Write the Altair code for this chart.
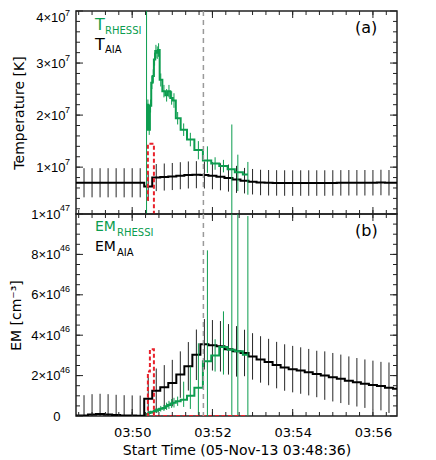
import altair as alt
import pandas as pd

# ---------------------------------------------------------------- data
# time = seconds after the start time 05-Nov-13 03:48:36
AIA_TIME = [0, 12, 24, 36, 48, 60, 72, 84, 96, 108,
            120, 132, 144, 156, 168, 180, 192, 204, 216, 228,
            240, 252, 264, 276, 288, 300, 312, 324, 336, 348,
            360, 372, 384, 396, 408, 420, 432, 444, 456, 468, 480]
T_AIA = [7.0e6, 7.0e6, 7.0e6, 7.0e6, 7.0e6, 7.0e6, 7.0e6, 7.0e6, 7.0e6, 6.3e6,
         8.0e6, 8.1e6, 8.2e6, 8.35e6, 8.5e6, 8.55e6, 8.5e6, 8.35e6, 8.15e6, 7.9e6,
         7.65e6, 7.4e6, 7.2e6, 7.05e6, 7.0e6, 6.97e6, 6.95e6, 6.95e6, 6.95e6, 6.95e6,
         6.95e6, 6.95e6, 6.97e6, 6.98e6, 7.0e6, 7.0e6, 7.0e6, 7.0e6, 7.05e6, 7.0e6, 7.0e6]
T_AIA_ERR = [2.8e6, 2.8e6, 2.8e6, 2.8e6, 2.8e6, 2.8e6, 2.8e6, 2.8e6, 2.8e6, 2.8e6,
             2.6e6, 2.6e6, 2.6e6, 2.6e6, 2.6e6, 2.6e6, 2.6e6, 2.6e6, 2.6e6, 2.6e6,
             2.6e6, 2.45e6, 2.45e6, 2.45e6, 2.45e6, 2.45e6, 2.45e6, 2.45e6, 2.45e6, 2.45e6,
             2.45e6, 2.45e6, 2.45e6, 2.45e6, 2.45e6, 2.45e6, 2.45e6, 2.45e6, 2.45e6, 2.45e6, 2.45e6]
# emission measure in units of 1e46 cm^-3
EM_AIA = [0.03, 0.03, 0.08, 0.10, 0.08, 0.05, 0.03, 0.02, 0.01, 0.85,
          1.25, 1.42, 1.63, 2.05, 2.46, 3.03, 3.55, 3.50, 3.45, 3.30,
          3.20, 3.12, 2.95, 2.80, 2.67, 2.52, 2.40, 2.32, 2.25, 2.17,
          2.08, 2.00, 1.92, 1.84, 1.75, 1.67, 1.60, 1.54, 1.48, 1.40, 1.35]
EM_AIA_ERR = [1.0, 1.0, 1.0, 1.0, 1.0, 1.0, 1.0, 1.0, 1.0, 1.05,
              1.1, 1.1, 1.15, 1.15, 1.2, 1.25, 1.25, 1.25, 1.25, 1.25,
              1.25, 1.15, 1.15, 1.15, 1.15, 1.15, 1.15, 1.15, 1.15, 1.15,
              1.15, 1.2, 1.2, 1.2, 1.2, 1.2, 1.2, 1.2, 1.2, 1.25, 1.25]

RH_TIME = [105.5, 107.5, 109.5, 111.5, 113.5, 115.5, 117.5, 119.5, 121.5, 123.5,
           126.75, 131.5, 135.5, 139, 143, 146.5, 152, 161, 171, 183,
           196.5, 208, 220.5, 233, 242, 257]
T_RH = [1.72e7, 2.2e7, 1.72e7, 2.18e7, 2.62e7, 2.75e7, 3.07e7, 3.23e7, 3.2e7, 3.25e7,
        2.68e7, 2.46e7, 2.38e7, 2.46e7, 2.33e7, 2.28e7, 1.94e7, 1.72e7, 1.53e7, 1.33e7,
        1.13e7, 1.07e7, 1.02e7, 0.96e7, 0.9e7, 0.86e7]
T_RH_LO = [0.0, 2.1e7, 1.62e7, 2.05e7, 2.5e7, 2.62e7, 2.95e7, 3.1e7, 3.08e7, 3.12e7,
           2.55e7, 2.34e7, 2.26e7, 2.34e7, 2.2e7, 2.14e7, 1.82e7, 1.6e7, 1.4e7, 1.15e7,
           0.89e7, 0.95e7, 0.9e7, 0.0, 0.54e7, 0.47e7]
T_RH_HI = [6.0e7, 2.3e7, 1.82e7, 2.3e7, 2.75e7, 2.88e7, 3.2e7, 3.35e7, 3.32e7, 3.38e7,
           2.8e7, 2.58e7, 2.5e7, 2.58e7, 2.46e7, 2.42e7, 2.06e7, 1.84e7, 1.66e7, 1.5e7,
           1.4e7, 1.19e7, 1.14e7, 1.82e7, 1.24e7, 1.1e7]
EM_RH = [0.08, 0.10, 0.15, 0.18, 0.18, 0.20, 0.25, 0.28, 0.28, 0.30,
         0.36, 0.40, 0.48, 0.55, 0.62, 0.66, 0.73, 0.81, 1.00, 1.40,
         2.71, 3.00, 3.42, 3.28, 3.20, 3.03]
EM_RH_LO = [0.02, 0.04, 0.08, 0.1, 0.1, 0.12, 0.15, 0.18, 0.18, 0.2,
            0.22, 0.25, 0.3, 0.35, 0.4, 0.42, 0.5, 0.45, 0.35, 0.05,
            0.0, 2.2, 2.05, 0.0, 0.0, 0.0]
EM_RH_HI = [0.14, 0.16, 0.22, 0.26, 0.26, 0.28, 0.35, 0.38, 0.38, 0.4,
            0.5, 0.55, 0.66, 0.75, 0.84, 0.9, 0.96, 1.7, 2.45, 3.6,
            8.2, 3.8, 5.18, 12.0, 12.0, 9.9]

RED_TIME = [106, 109, 112, 115, 118, 257]
T_RED = [3.75e6, 1.45e7, 1.45e7, 1.45e7, 0.0, 0.0]
EM_RED = [0.0, 2.2, 3.3, 3.3, 0.0, 0.0]

VLINE_TIME = [190.5]

X_DOMAIN = [0, 480]
X_TICK_VALUES = [84, 204, 324, 444]
X_TICK_LABELS = ["03:50", "03:52", "03:54", "03:56"]
X_MINOR = [4 + 20 * i for i in range(24)]

T_DOMAIN = [1e6, 4e7]
T_TICK_VALUES = [1e7, 2e7, 3e7, 4e7]
T_TICK_BASE = ["1×10", "2×10", "3×10", "4×10"]
T_TICK_EXP = ["7", "7", "7", "7"]
T_MINOR = [i * 2e6 for i in range(1, 20)]

EM_DOMAIN = [0, 10]
EM_TICK_VALUES = [0, 2, 4, 6, 8, 10]
EM_TICK_BASE = ["0", "2×10", "4×10", "6×10", "8×10", "1×10"]
EM_TICK_EXP = ["", "46", "46", "46", "46", "47"]
EM_MINOR = [i * 0.5 for i in range(1, 20)]

# ---------------------------------------------------------------- style
W, HA, HB = 321, 203, 202
GREEN = "#0c9d4f"
BLACK = "#000000"
ERRBLACK = "#262626"
RED = "#e8212b"
GRAY = "#9a9a9a"
LABEL_FONT = "Liberation Sans"
TEXT_FONT = "DejaVu Sans"


def label_expr(values, labels, tol):
    expr = "''"
    for v, l in reversed(list(zip(values, labels))):
        expr = f"abs(datum.value - ({v!r})) < {tol} ? '{l}' : ({expr})"
    return expr


XS = alt.Scale(domain=X_DOMAIN, nice=False, zero=False)
TS = alt.Scale(domain=T_DOMAIN, nice=False, zero=False)
ES = alt.Scale(domain=EM_DOMAIN, nice=False, zero=False)

AX_X_B = alt.Axis(values=X_TICK_VALUES,
                  labelExpr=label_expr(X_TICK_VALUES, X_TICK_LABELS, 0.5),
                  ticks=False, domain=False, grid=False, labelFlush=False,
                  labelFont=TEXT_FONT, labelFontSize=13, labelPadding=10,
                  title="Start Time (05-Nov-13 03:48:36)", titleFont=TEXT_FONT,
                  titleFontSize=14, titleFontWeight="normal", titlePadding=4,
                  labelColor="black", titleColor="black")
AX_Y_A = alt.Axis(values=T_TICK_VALUES,
                  labelExpr=label_expr(T_TICK_VALUES, T_TICK_BASE, 1.0),
                  ticks=False, domain=False, grid=False, labelFlush=True,
                  labelFont=LABEL_FONT, labelFontSize=13, labelPadding=11,
                  title="Temperature [K]", titleFont=TEXT_FONT, titleFontSize=14,
                  titleFontWeight="normal", titlePadding=9,
                  labelColor="black", titleColor="black")
AX_Y_B = alt.Axis(values=EM_TICK_VALUES,
                  labelExpr=label_expr(EM_TICK_VALUES, EM_TICK_BASE, 1e-6),
                  ticks=False, domain=False, grid=False, labelFlush=False,
                  labelFont=LABEL_FONT, labelFontSize=13, labelPadding=16,
                  title="EM [cm⁻³]", titleFont=TEXT_FONT, titleFontSize=14,
                  titleFontWeight="normal", titlePadding=7,
                  labelColor="black", titleColor="black")

# ---------------------------------------------------------------- tables
aia = pd.DataFrame({"t": AIA_TIME, "T": T_AIA, "Terr": T_AIA_ERR,
                    "EM": EM_AIA, "EMerr": EM_AIA_ERR})
aia["Tlo"] = aia["T"] - aia["Terr"]
aia["Thi"] = aia["T"] + aia["Terr"]
aia["EMlo"] = aia["EM"] - aia["EMerr"]
aia["EMhi"] = aia["EM"] + aia["EMerr"]
aia_err = aia[(aia["t"] > X_DOMAIN[0]) & (aia["t"] < X_DOMAIN[1])]

rh = pd.DataFrame({"t": RH_TIME, "T": T_RH, "Tlo": T_RH_LO, "Thi": T_RH_HI,
                   "EM": EM_RH, "EMlo": EM_RH_LO, "EMhi": EM_RH_HI})
red = pd.DataFrame({"t": RED_TIME, "T": T_RED, "EM": EM_RED})
vline = pd.DataFrame({"t": VLINE_TIME})
one = pd.DataFrame({"a": [0]})
t_exp = pd.DataFrame({"v": T_TICK_VALUES, "e": T_TICK_EXP})
em_exp = pd.DataFrame({"v": EM_TICK_VALUES, "e": EM_TICK_EXP})


def X(ax):
    return alt.X("t:Q", scale=XS, axis=ax)


def ticks(ax_x, ys, ax_y, minor, major, H):
    out = []
    for vals, L in ((X_MINOR, 4), (X_TICK_VALUES, 7)):
        c = alt.Chart(pd.DataFrame({"t": vals})).mark_rule(color="#222", strokeWidth=1)
        out.append(c.encode(x=X(ax_x), y=alt.value(0), y2=alt.value(L)))
        out.append(c.encode(x=X(ax_x), y=alt.value(H), y2=alt.value(H - L)))
    for vals, L in ((minor, 4), (major, 7)):
        c = alt.Chart(pd.DataFrame({"v": vals})).mark_rule(color="#222", strokeWidth=1)
        out.append(c.encode(y=alt.Y("v:Q", scale=ys, axis=ax_y), x=alt.value(0), x2=alt.value(L)))
        out.append(c.encode(y=alt.Y("v:Q", scale=ys, axis=ax_y), x=alt.value(W), x2=alt.value(W - L)))
    return out


def exponents(df, ys, ax_y, top_value, dy_normal, dy_top):
    enc = dict(y=alt.Y("v:Q", scale=ys, axis=ax_y), x=alt.value(-6), text="e:N")
    out = [alt.Chart(df).mark_text(font=LABEL_FONT, fontSize=9, color="black", align="right",
                                   baseline="alphabetic", dy=dy_normal)
           .encode(**enc).transform_filter(f"datum.v < {top_value!r}")]
    out.append(alt.Chart(df).mark_text(font=LABEL_FONT, fontSize=9, color="black", align="right",
                                       baseline="alphabetic", dy=dy_top)
               .encode(**enc).transform_filter(f"datum.v >= {top_value!r}"))
    return out


def label(text, x, y, size, color):
    return alt.Chart(one).mark_text(text=text, font=TEXT_FONT, fontSize=size, color=color,
                                    align="left", baseline="alphabetic").encode(
        x=alt.value(x), y=alt.value(y))


def panel(field, lo, hi, ys, ax_x, ax_y, H, minor, major, extra):
    layers = [
        alt.Chart(aia_err).mark_rule(color=ERRBLACK, strokeWidth=1, clip=True).encode(
            x=X(ax_x), y=alt.Y(f"{field}lo:Q", scale=ys, axis=ax_y), y2=f"{field}hi:Q"),
        alt.Chart(aia).mark_line(color=BLACK, strokeWidth=2, interpolate="step", clip=True).encode(
            x=X(ax_x), y=alt.Y(f"{field}:Q", scale=ys, axis=ax_y)),
        alt.Chart(rh).mark_rule(color=GREEN, strokeWidth=1, clip=True).encode(
            x=X(ax_x), y=alt.Y(f"{lo}:Q", scale=ys, axis=ax_y), y2=f"{hi}:Q"),
        alt.Chart(rh).mark_line(color=GREEN, strokeWidth=2, interpolate="step", clip=True).encode(
            x=X(ax_x), y=alt.Y(f"{field}:Q", scale=ys, axis=ax_y)),
        alt.Chart(red).mark_line(color=RED, strokeWidth=2, strokeDash=[4, 2.5],
                                 interpolate="step", clip=True).encode(
            x=X(ax_x), y=alt.Y(f"{field}:Q", scale=ys, axis=ax_y)),
        alt.Chart(vline).mark_rule(color=GRAY, strokeWidth=1.5, strokeDash=[5, 4]).encode(
            x=X(ax_x)),
    ]
    layers += ticks(ax_x, ys, ax_y, minor, major, H)
    layers += extra
    return alt.layer(*layers).properties(width=W, height=H)


top = panel("T", "Tlo", "Thi", TS, None, AX_Y_A, HA, T_MINOR, T_TICK_VALUES,
            exponents(t_exp, TS, AX_Y_A, 4e7, -2, 5) + [
                label("T", 19, 19, 16, GREEN), label("RHESSI", 29, 23, 10, GREEN),
                label("T", 19, 39, 16, BLACK), label("AIA", 29, 42, 10, BLACK),
                label("(a)", 279, 22, 16, BLACK),
            ])
bottom = panel("EM", "EMlo", "EMhi", ES, AX_X_B, AX_Y_B, HB, EM_MINOR, EM_TICK_VALUES,
               exponents(em_exp, ES, AX_Y_B, 1e9, -3, -3) + [
                   label("EM", 19, 17, 14, GREEN), label("RHESSI", 41, 22, 10, GREEN),
                   label("EM", 19, 37, 14, BLACK), label("AIA", 41, 42, 10, BLACK),
                   label("(b)", 279, 22, 16, BLACK),
               ])

chart = alt.vconcat(top, bottom, spacing=0, bounds="flush").properties(
    padding={"left": 0, "top": 0, "right": 5, "bottom": 2},
    background="white",
).configure_view(stroke="#222", strokeWidth=1.5)

chart.save("out.html", embed_options={"renderer": "svg", "actions": False})
